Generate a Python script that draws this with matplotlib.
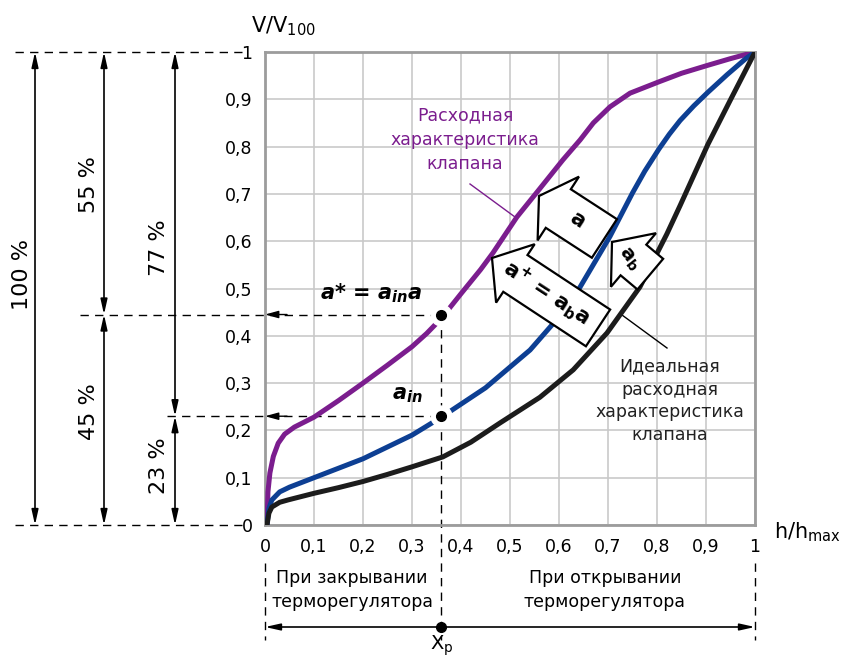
import numpy as np
import matplotlib
matplotlib.use("Agg")
import matplotlib.pyplot as plt
import matplotlib.transforms as mtransforms
from matplotlib.patches import Polygon

plt.rcParams['font.family'] = ['DejaVu Sans']
plt.rcParams['mathtext.default'] = 'regular'

# curve data (h/hmax, V/V100)
valve_x = [0.004, 0.006, 0.01, 0.017, 0.027, 0.04, 0.06, 0.1, 0.15, 0.2, 0.25, 0.3,
           0.33, 0.36, 0.4, 0.44, 0.465, 0.514, 0.56, 0.608, 0.643, 0.67, 0.704,
           0.745, 0.804, 0.85, 0.904, 0.95, 1.0]
valve_y = [0.0, 0.07, 0.11, 0.145, 0.173, 0.192, 0.207, 0.228, 0.263, 0.3, 0.338,
           0.377, 0.405, 0.437, 0.489, 0.54, 0.575, 0.651, 0.71, 0.772, 0.814, 0.85,
           0.884, 0.913, 0.937, 0.955, 0.972, 0.986, 1.0]

mid_x = [0.004, 0.008, 0.014, 0.03, 0.05, 0.1, 0.15, 0.2, 0.25, 0.3, 0.36, 0.45,
         0.541, 0.6, 0.643, 0.704, 0.75, 0.775, 0.804, 0.825, 0.847, 0.875, 0.904,
         0.943, 0.98, 1.0]
mid_y = [0.0, 0.035, 0.053, 0.07, 0.08, 0.1, 0.12, 0.14, 0.165, 0.19, 0.228, 0.29,
         0.37, 0.44, 0.503, 0.61, 0.702, 0.748, 0.795, 0.826, 0.855, 0.886, 0.915,
         0.952, 0.985, 1.0]

ideal_x = [0.004, 0.008, 0.014, 0.03, 0.047, 0.1, 0.15, 0.2, 0.25, 0.3, 0.363, 0.42,
           0.48, 0.561, 0.629, 0.698, 0.765, 0.82, 0.847, 0.904, 0.949, 1.0]
ideal_y = [0.0, 0.025, 0.038, 0.048, 0.053, 0.067, 0.079, 0.092, 0.107, 0.123, 0.144,
           0.175, 0.216, 0.27, 0.328, 0.406, 0.503, 0.615, 0.675, 0.805, 0.897, 1.0]

ticks = np.round(np.arange(0, 1.01, 0.1), 1)
tick_labels = ['0', '0,1', '0,2', '0,3', '0,4', '0,5', '0,6', '0,7', '0,8', '0,9', '1']

xp = 0.36          # working point
y_star = 0.445     # a* level
y_in = 0.23        # a_in level

PURPLE = '#7b1d8e'
BLUE = '#0d3f93'
BLACK = '#1c1c1c'

W, H = 846, 659
fig = plt.figure(figsize=(W / 100, H / 100), dpi=100)
ax = fig.add_axes([265 / W, 134 / H, 490 / W, 473 / H])
ax.set_xlim(0, 1)
ax.set_ylim(0, 1)


# picture pixel -> data (for the annotations around the chart)
def dx(px):
  return (px - 265) / 490.0


def dy(py):
  return (525 - py) / 473.0


ax.set_xticks(ticks)
ax.set_yticks(ticks)
ax.set_xticklabels(tick_labels)
ax.set_yticklabels(tick_labels)
ax.tick_params(length=0, labelsize=12.5, pad=9)
ax.grid(True, color='#c9c9c9', lw=1.2)
ax.set_axisbelow(True)
for s in ax.spines.values():
  s.set_color('#9c9c9c')
  s.set_linewidth(2)

line_kw = dict(lw=3.6, zorder=3, solid_capstyle='round', solid_joinstyle='round')
ax.plot(valve_x, valve_y, color=PURPLE, **line_kw)
ax.plot(mid_x, mid_y, color=BLUE, **line_kw)
ax.plot(ideal_x, ideal_y, color=BLACK, **line_kw)

dash = dict(color='black', lw=1.0, dashes=(6, 4.5), clip_on=False, zorder=2.5)

# horizontal dashed guides
ax.plot([dx(15), dx(242)], [1, 1], **dash)
ax.plot([dx(15), dx(242)], [0, 0], **dash)
ax.plot([dx(80), xp], [y_star, y_star], **dash)
ax.plot([dx(167), xp], [y_in, y_in], **dash)
for yy in (y_star, y_in):
  ax.annotate('', xy=(0.0, yy), xytext=(0.045, yy),
              arrowprops=dict(arrowstyle='-|>,head_length=0.8,head_width=0.22',
                              color='black', lw=1.0, shrinkA=0, shrinkB=0),
              zorder=2.6)

# vertical dashed guides
ax.plot([xp, xp], [y_star, dy(640)], **dash)
ax.plot([0, 0], [dy(563), dy(640)], **dash)
ax.plot([1, 1], [dy(563), dy(640)], **dash)

# dots with white gap on the curves
for yy in (y_star, y_in):
  ax.plot(xp, yy, 'o', ms=15, color='white', zorder=3.5, clip_on=False)
  ax.plot(xp, yy, 'o', ms=7, color='black', zorder=4, clip_on=False)

# dimension arrows on the left
dim = dict(arrowstyle='<|-|>,head_length=0.9,head_width=0.2', color='black',
           lw=1.2, shrinkA=0, shrinkB=0)
for x0, y0, y1 in [(dx(35), 0, 1), (dx(104), y_star, 1), (dx(104), 0, y_star),
                   (dx(175), y_in, 1), (dx(175), 0, y_in)]:
  ax.annotate('', xy=(x0, y1), xytext=(x0, y0), arrowprops=dim, annotation_clip=False)

pct = [('100 %', 22, 274), ('55 %', 89, 185), ('45 %', 89, 412),
       ('77 %', 159, 248), ('23 %', 159, 466)]
for txt, px, py in pct:
  ax.text(dx(px), dy(py), txt, rotation=90, ha='center', va='center',
          fontsize=16, clip_on=False)

# bottom range arrow
yb = dy(627)
ax.annotate('', xy=(0, yb), xytext=(1, yb),
            arrowprops=dict(arrowstyle='<|-|>,head_length=0.9,head_width=0.2',
                            color='black', lw=1.2, shrinkA=0, shrinkB=0),
            annotation_clip=False)
ax.plot(xp, yb, 'o', ms=7, color='black', clip_on=False)
ax.text(xp, dy(633), 'X$_p$', ha='center', va='top', fontsize=14, clip_on=False)
ax.text(dx(352), dy(590), 'При закрывании\nтерморегулятора', ha='center',
        va='center', fontsize=12.5, linespacing=1.4)
ax.text(dx(605), dy(590), 'При открывании\nтерморегулятора', ha='center',
        va='center', fontsize=12.5, linespacing=1.4)

# axis labels
ax.text(dx(283), dy(26), 'V/V$_{100}$', ha='center', va='center', fontsize=15)
ax.text(dx(808), dy(532), 'h/h$_{max}$', ha='center', va='center', fontsize=15)

# callouts
ax.text(dx(465), dy(140), 'Расходная\nхарактеристика\nклапана', color=PURPLE,
        ha='center', va='center', fontsize=12.5, linespacing=1.45)
ax.plot([dx(470), dx(515)], [dy(184), dy(217)], color=PURPLE, lw=1.0, zorder=2.8)
ax.text(dx(670), dy(401), 'Идеальная\nрасходная\nхарактеристика\nклапана',
        color='#222222', ha='center', va='center', fontsize=12.5, linespacing=1.35)
ax.plot([dx(622), dx(667)], [dy(315), dy(348)], color='black', lw=1.0, zorder=2.8)

ax.text(dx(371), dy(293), 'a* = a$_{in}$a', fontsize=15, fontweight='bold',
        style='italic', ha='center', va='center')
ax.text(dx(407), dy(395), 'a$_{in}$', fontsize=15, fontweight='bold',
        style='italic', ha='center', va='center')


def block_arrow(tip, ang, length, head_len, head_w, shaft_w, z):
  verts = [(0, 0), (-head_len, head_w / 2), (-head_len, shaft_w / 2),
           (-length, shaft_w / 2), (-length, -shaft_w / 2),
           (-head_len, -shaft_w / 2), (-head_len, -head_w / 2)]
  tr = mtransforms.Affine2D().rotate_deg(ang).translate(*ax.transData.transform(tip))
  ax.add_patch(Polygon(verts, closed=True, transform=tr, fc='white', ec='black',
                       lw=1.6, joinstyle='miter', zorder=z))


block_arrow((dx(539), dy(196)), 147, 78, 23, 76, 46, 5)
block_arrow((dx(492), dy(258)), 146.6, 127, 28, 70, 44, 6)
block_arrow((dx(612), dy(242)), 140, 50, 28, 70, 40, 5)

ax.text(dx(577), dy(220), 'a', rotation=-33, fontsize=15, fontweight='bold',
        ha='center', va='center', rotation_mode='anchor', zorder=7)
ax.text(dx(547), dy(293), 'a$^{+}$ = a$_{b}$a', rotation=-33, fontsize=15,
        fontweight='bold', ha='center', va='center', rotation_mode='anchor', zorder=7)
ax.text(dx(629), dy(259), 'a$_{b}$', rotation=-52, fontsize=14, fontweight='bold',
        ha='center', va='center', rotation_mode='anchor', zorder=7)

fig.savefig('out.png', dpi=100)
